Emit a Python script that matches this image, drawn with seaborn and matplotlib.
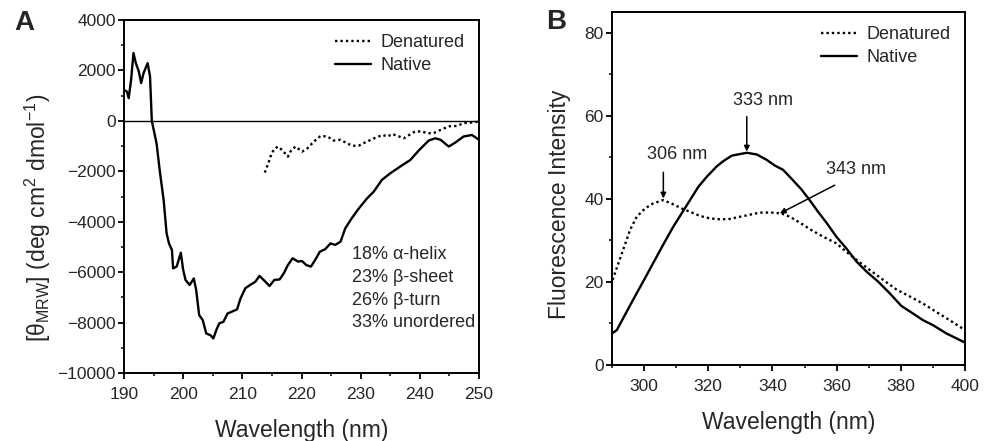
import numpy as np
import pandas as pd
import matplotlib
matplotlib.use("Agg")
import matplotlib.pyplot as plt
from matplotlib.ticker import MultipleLocator
import seaborn as sns

# ---------------- Panel A data (CD spectra) ----------------
cd_native_wl = [190.0, 190.5, 190.8, 191.2, 191.6, 192.0, 192.5, 192.9, 193.3, 194.0, 194.4,
                194.7, 195.5, 196.1, 196.7, 197.2, 197.6, 198.1, 198.3, 198.9, 199.6, 200.0,
                200.4, 201.1, 201.8, 202.2, 202.7, 203.3, 203.9, 204.6, 205.1, 205.6, 206.1,
                206.8, 207.5, 208.2, 209.1, 209.7, 210.5, 211.3, 212.2, 212.9, 213.6, 214.6,
                215.4, 216.3, 217.0, 217.7, 218.5, 219.4, 220.1, 220.8, 221.6, 222.3, 223.1,
                224.0, 224.9, 225.7, 226.6, 227.4, 228.5, 229.7, 231.1, 232.2, 233.6, 235.0,
                236.7, 238.4, 239.8, 241.5, 242.6, 243.5, 244.9, 246.0, 247.4, 248.8, 250.0]
cd_native_val = [1230, 1160, 900, 1630, 2690, 2290, 1960, 1500, 1890, 2290, 1760,
                 0, -890, -2080, -3140, -4460, -4860, -5120, -5850, -5780, -5230, -5910,
                 -6310, -6510, -6250, -6710, -7700, -7900, -8430, -8500, -8630, -8300, -8030,
                 -7970, -7640, -7570, -7480, -7040, -6640, -6510, -6380, -6150, -6310, -6550,
                 -6310, -6290, -6050, -5720, -5450, -5580, -5560, -5720, -5780, -5520, -5190,
                 -5090, -4860, -4920, -4790, -4260, -3860, -3470, -3070, -2810, -2340, -2080,
                 -1810, -1550, -1180, -780, -690, -750, -1020, -860, -620, -560, -750]

cd_denat_wl = [213.8, 214.4, 214.9, 215.4, 216.0, 216.7, 217.7, 218.3, 219.0, 220.1, 221.0,
               222.1, 223.2, 224.4, 225.4, 226.6, 227.7, 228.6, 229.7, 230.8, 232.3, 233.7,
               234.6, 235.3, 236.5, 237.3, 238.2, 239.2, 240.4, 241.2, 242.3, 243.5, 244.9,
               246.3, 247.4, 248.5, 250.0]
cd_denat_val = [-2050, -1680, -1320, -1120, -1020, -1150, -1420, -1150, -1020, -1220, -1090,
                -820, -600, -620, -780, -750, -890, -990, -980, -850, -690, -560,
                -620, -520, -620, -690, -560, -420, -420, -490, -490, -360, -220,
                -200, -90, -70, -30]

cd_text = ["18% \u03b1-helix", "23% \u03b2-sheet", "26% \u03b2-turn", "33% unordered"]

# ---------------- Panel B data (fluorescence) ----------------
fl_native_wl = [290.0, 291.5, 295.1, 297.7, 300.0, 302.8, 305.9, 309.1, 311.7, 314.3, 316.9,
                319.5, 322.6, 324.7, 327.3, 329.9, 332.0, 335.1, 338.2, 340.8, 343.3, 345.9,
                349.0, 351.6, 354.2, 356.8, 359.9, 363.0, 366.2, 369.3, 372.9, 376.5, 380.2,
                383.8, 386.9, 390.0, 394.2, 400.0]
fl_native_val = [7.6, 8.4, 13.6, 17.3, 20.5, 24.5, 28.9, 33.3, 36.5, 39.7, 42.9,
                 45.3, 47.8, 49.1, 50.4, 50.8, 51.1, 50.7, 49.4, 48.0, 47.0, 44.9,
                 42.3, 39.7, 36.9, 34.3, 30.9, 28.1, 24.9, 22.5, 20.1, 17.3, 14.2,
                 12.4, 10.8, 9.6, 7.6, 5.4]

fl_denat_wl = [290.2, 292.0, 294.0, 295.6, 297.7, 300.3, 302.8, 305.9, 308.5, 311.7, 314.3,
               317.4, 320.5, 323.6, 326.2, 329.3, 332.4, 336.1, 339.7, 342.8, 345.4, 348.5,
               352.1, 355.8, 359.9, 363.6, 366.2, 370.3, 374.5, 378.6, 382.8, 386.9, 391.0,
               395.2, 400.0]
fl_denat_val = [20.5, 24.5, 28.9, 32.5, 35.7, 37.7, 38.9, 39.7, 38.9, 37.7, 36.9,
                35.9, 35.3, 35.1, 35.1, 35.6, 36.1, 36.7, 36.7, 36.5, 35.7, 34.3,
                32.5, 30.9, 29.3, 26.9, 25.3, 22.9, 20.5, 18.2, 16.5, 14.8, 12.8,
                10.8, 8.4]

peak_labels = ["306 nm", "333 nm", "343 nm"]
peak_wl = [306.0, 332.0, 342.3]
peak_val = [40.1, 51.4, 36.5]

# ---------------- style ----------------
sns.set_style("ticks")
plt.rcParams["font.family"] = ["Liberation Sans", "DejaVu Sans"]
plt.rcParams["mathtext.fontset"] = "custom"
plt.rcParams["mathtext.rm"] = "Liberation Sans"
plt.rcParams["mathtext.it"] = "Liberation Sans:italic"
plt.rcParams["axes.linewidth"] = 1.4
plt.rcParams["axes.edgecolor"] = "black"

fig = plt.figure(figsize=(9.92, 4.41), dpi=100)
axA = fig.add_axes([124 / 992, 1 - 373 / 441, (479 - 124) / 992, (373 - 20) / 441])
axB = fig.add_axes([612 / 992, 1 - 365 / 441, (965 - 612) / 992, (365 - 12) / 441])

dot_style = (0, (1, 1.3))

dfA_nat = pd.DataFrame({"wl": cd_native_wl, "val": cd_native_val})
dfA_den = pd.DataFrame({"wl": cd_denat_wl, "val": cd_denat_val})
dfB_nat = pd.DataFrame({"wl": fl_native_wl, "val": fl_native_val})
dfB_den = pd.DataFrame({"wl": fl_denat_wl, "val": fl_denat_val})

for ax, dn, dd in [(axA, dfA_nat, dfA_den), (axB, dfB_nat, dfB_den)]:
    sns.lineplot(data=dd, x="wl", y="val", ax=ax, color="black", lw=1.7,
                 linestyle=dot_style, estimator=None, label="Denatured")
    sns.lineplot(data=dn, x="wl", y="val", ax=ax, color="black", lw=1.7,
                 estimator=None, label="Native")

axA.axhline(0, color="black", lw=1.0, zorder=1)

# ---------------- axes formatting ----------------
axA.set_xlim(190, 250)
axA.set_ylim(-10000, 4000)
axA.xaxis.set_major_locator(MultipleLocator(10))
axA.xaxis.set_minor_locator(MultipleLocator(5))
axA.yaxis.set_major_locator(MultipleLocator(2000))
axA.yaxis.set_minor_locator(MultipleLocator(1000))

axB.set_xlim(290, 400)
axB.set_ylim(0, 85)
axB.xaxis.set_major_locator(MultipleLocator(20))
axB.xaxis.set_minor_locator(MultipleLocator(10))
axB.yaxis.set_major_locator(MultipleLocator(20))
axB.yaxis.set_minor_locator(MultipleLocator(10))

for ax in (axA, axB):
    for s in ax.spines.values():
        s.set_visible(True)
        s.set_linewidth(1.4)
    ax.tick_params(which="major", direction="out", length=4, width=1.3,
                   labelsize=12.5, color="black", pad=2)
    ax.tick_params(axis="x", which="major", pad=6)
    ax.tick_params(which="minor", direction="out", length=2.5, width=1.1, color="black")
    ax.set_xlabel("Wavelength (nm)", fontsize=16.5, labelpad=12)
    ax.legend(loc="upper right", frameon=False, fontsize=13, handlelength=2.0,
              handletextpad=0.5, labelspacing=0.3, borderaxespad=0.4)

axA.set_ylabel("[\u03b8$_{\\mathregular{MRW}}$] (deg cm$^{\\mathregular{2}}$ dmol$^{\\mathregular{-1}}$)",
               fontsize=16.5)
axA.yaxis.set_label_coords(-0.2, 0.44)
axB.set_ylabel("Fluorescence Intensity", fontsize=16.5)
axB.yaxis.set_label_coords(-0.117, 0.455)

# CD secondary-structure text
for i, t in enumerate(cd_text):
    axA.text(228.5, -5320 - i * 895, t, fontsize=13, va="center", ha="left")

# Fluorescence peak annotations
arrow_kw = dict(arrowstyle="-|>", color="black", lw=1.1, mutation_scale=8,
                shrinkA=0, shrinkB=0)
axB.annotate("", xy=(peak_wl[0], peak_val[0]), xytext=(peak_wl[0], 46.4), arrowprops=arrow_kw)
axB.text(310.3, 50.8, peak_labels[0], fontsize=13, ha="center", va="center")
axB.annotate("", xy=(peak_wl[1], peak_val[1]), xytext=(peak_wl[1], 59.8), arrowprops=arrow_kw)
axB.text(337.1, 63.8, peak_labels[1], fontsize=13, ha="center", va="center")
axB.annotate("", xy=(peak_wl[2], peak_val[2]), xytext=(359.4, 43.3), arrowprops=arrow_kw)
axB.text(365.9, 47.1, peak_labels[2], fontsize=13, ha="center", va="center")

# panel letters
fig.text(14 / 992, 1 - 30 / 441, "A", fontsize=20, fontweight="bold", ha="left", va="baseline")
fig.text(546 / 992, 1 - 29 / 441, "B", fontsize=20, fontweight="bold", ha="left", va="baseline")

fig.savefig("out.png", dpi=100)
